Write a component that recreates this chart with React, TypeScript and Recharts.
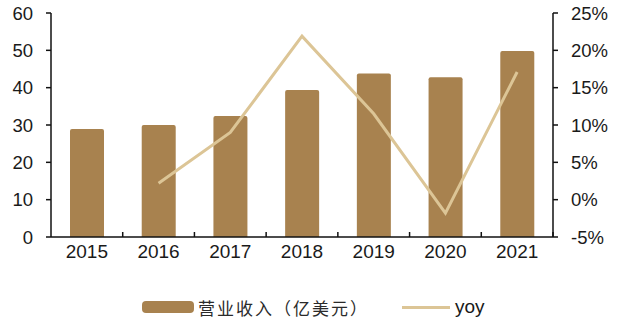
import React from 'react'
import { ComposedChart, Bar, Line, XAxis, YAxis } from 'recharts'

const years = ['2015', '2016', '2017', '2018', '2019', '2020', '2021']
const revenue = [28.9, 30.0, 32.4, 39.4, 43.8, 42.8, 49.8]
const yoy = [null, 2.2, 9.0, 21.9, 11.5, -1.8, 17.1]
const leftTicks = [0, 10, 20, 30, 40, 50, 60]
const rightTicks = [-5, 0, 5, 10, 15, 20, 25]

const data = years.map((y, i) => ({ year: y, revenue: revenue[i], yoy: yoy[i] }))

const W = 640
const H = 323
const LEFT = 51
const RIGHT = 87
const TOP = 13
const BOTTOM = 86
const band = (W - LEFT - RIGHT) / years.length

const BAR = '#A8824F'
const LINE = '#DCC596'
const AXIS = '#111'
const FONT = 'Arial, "Liberation Sans", sans-serif'

const XTick = ({ x, y, payload }: any) => (
  <g>
    <line x1={x + band / 2} x2={x + band / 2} y1={y} y2={y - 5} stroke={AXIS} strokeWidth={1.5} />
    <text x={x} y={y + 21} textAnchor="middle" fontSize={19} fontFamily={FONT} fill="#1a1a1a">
      {payload.value}
    </text>
  </g>
)

export default function App() {
  return (
    <div style={{ position: 'fixed', left: 0, top: 0, width: W, height: H, background: '#fff' }}>
      <ComposedChart
        width={W}
        height={H}
        data={data}
        margin={{ top: TOP, right: 0, left: 0, bottom: 0 }}
      >
        <XAxis
          dataKey="year"
          height={BOTTOM}
          tickLine={false}
          tickSize={0}
          tickMargin={0}
          axisLine={{ stroke: AXIS, strokeWidth: 1.5 }}
          tick={<XTick />}
          interval={0}
        />
        <YAxis
          yAxisId="left"
          width={LEFT}
          domain={[0, 60]}
          ticks={leftTicks}
          tickSize={5}
          tickMargin={13}
          axisLine={{ stroke: AXIS, strokeWidth: 1.5 }}
          tickLine={{ stroke: AXIS, strokeWidth: 1.5 }}
          tick={{ fontSize: 18.5, fontFamily: FONT, fill: '#1a1a1a' }}
        />
        <YAxis
          yAxisId="right"
          orientation="right"
          width={RIGHT}
          domain={[-5, 25]}
          ticks={rightTicks}
          tickSize={5}
          tickMargin={13}
          tickFormatter={(v: number) => `${v}%`}
          axisLine={{ stroke: AXIS, strokeWidth: 1.5 }}
          tickLine={{ stroke: AXIS, strokeWidth: 1.5 }}
          tick={{ fontSize: 18.5, fontFamily: FONT, fill: '#1a1a1a', textAnchor: 'start' }}
        />
        <Bar
          yAxisId="left"
          dataKey="revenue"
          fill={BAR}
          barSize={34}
          radius={[2, 2, 0, 0]}
          isAnimationActive={false}
        />
        <Line
          yAxisId="right"
          type="linear"
          dataKey="yoy"
          stroke={LINE}
          strokeWidth={3}
          dot={false}
          activeDot={false}
          connectNulls={false}
          isAnimationActive={false}
        />
      </ComposedChart>

      {/* Legend */}
      <div style={{ position: 'absolute', left: 142, top: 296, display: 'flex', alignItems: 'center', height: 22 }}>
        <span style={{ display: 'inline-block', width: 52, height: 12, background: BAR, borderRadius: 4 }} />
        <span style={{ marginLeft: 4, fontSize: 17, fontFamily: '"Noto Sans CJK SC", sans-serif', color: '#2a2a2a', letterSpacing: 2 }}>
          营业收入（亿美元）
        </span>
      </div>
      <div style={{ position: 'absolute', left: 402, top: 296, display: 'flex', alignItems: 'center', height: 22 }}>
        <span style={{ display: 'inline-block', width: 48, height: 3, background: LINE }} />
        <span style={{ marginLeft: 5, fontSize: 19, fontFamily: FONT, color: '#1a1a1a' }}>yoy</span>
      </div>
    </div>
  )
}
